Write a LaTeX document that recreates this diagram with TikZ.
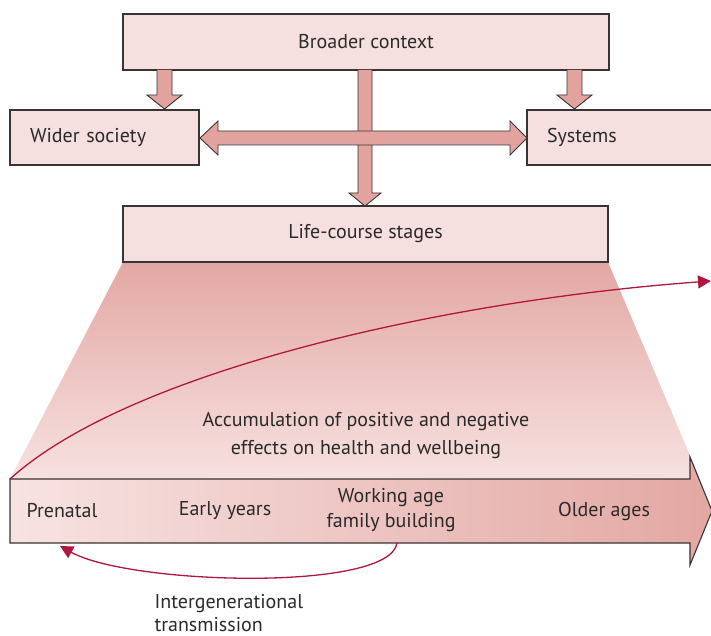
\documentclass[tikz,border=0pt]{standalone}
\usepackage{fontspec}
\setmainfont{PT Sans}
\usetikzlibrary{arrows.meta}
\definecolor{boxfill}{HTML}{F6E0DF}
\definecolor{arrfill}{HTML}{E2A39E}
\definecolor{edge}{HTML}{3A3333}
\definecolor{curvered}{HTML}{B0173E}
\definecolor{txt}{HTML}{2A2A2A}
\begin{document}
\begin{tikzpicture}[x=1pt,y=-1pt,
  box/.style={draw=edge,fill=boxfill,line width=1.1pt,rectangle,inner sep=0pt,font=\fontsize{20}{24}\selectfont,text=txt},
  blockarrow/.style={draw=edge,fill=arrfill,line width=0.9pt,line join=miter},
  lbl/.style={font=\fontsize{20}{25}\selectfont,text=txt,align=center},
  redcurve/.style={draw=curvered,line width=1.3pt,-{Triangle[length=13pt,width=13pt]}}
]
\useasboundingbox (0,0) rectangle (711,636);

% trapezoid shading
\shade[top color=arrfill!95!white,bottom color=boxfill!95!white]
  (123,262) -- (608,262) -- (700,479) -- (10,479) -- cycle;

% boxes
\node[box,minimum width=486pt,minimum height=56pt] (broader) at (366,42) {Broader context};
\node[box,minimum width=189pt,minimum height=55pt,text width=149pt,align=left,inner xsep=20pt] (wider) at (104.5,137.5) {Wider society};
\node[box,minimum width=200pt,minimum height=55pt,text width=160pt,align=left,inner xsep=20pt] (systems) at (627,137.5) {Systems};
\node[box,minimum width=485pt,minimum height=56pt] (life) at (365.5,234) {Life-course stages};

% down arrows from broader context
\draw[blockarrow] (157,70) -- (157,95) -- (147,95) -- (164.5,109) -- (182,95) -- (172,95) -- (172,70);
\draw[blockarrow] (567,70) -- (567,95) -- (557,95) -- (574.5,109) -- (592,95) -- (582,95) -- (582,70);
% central arrow
\draw[blockarrow] (358,70) -- (358,193) -- (349,193) -- (365,206) -- (381,193) -- (372,193) -- (372,70);
% double arrow
\draw[blockarrow] (200,138) -- (218,121) -- (218,131) -- (510,131) -- (510,121) -- (527,138) -- (510,155) -- (510,145) -- (218,145) -- (218,155) -- cycle;

% timeline arrow
\path[left color=boxfill!90!white,right color=arrfill!95!white,draw=edge,line width=1.1pt]
  (10,479) -- (690,479) -- (690,457) -- (712,511) -- (690,565) -- (690,543) -- (10,543) -- cycle;
\coordinate (tl) at (10,479);
\coordinate (endA) at (711,281);
\coordinate (startB) at (397,543);
\coordinate (endB) at (60,546);

\node[lbl] (pre) at (62,511) {Prenatal};
\node[lbl] (early) at (225,511) {Early years};
\node[lbl] (work) at (391,510) {Working age\\family building};
\node[lbl] (older) at (604,511) {Older ages};
\node[lbl,font=\fontsize{20}{28}\selectfont] (accum) at (366,436) {Accumulation of positive and negative\\effects on health and wellbeing};
\node[lbl,align=left,anchor=west,font=\fontsize{20}{23}\selectfont] (inter) at (151,613) {Intergenerational\\transmission};

% red curves
\draw[redcurve] (tl) .. controls (130,370) and (450,300) .. (endA);
\draw[redcurve] (startB) .. controls (390,592) and (130,585) .. (endB);
\end{tikzpicture}
\end{document}
